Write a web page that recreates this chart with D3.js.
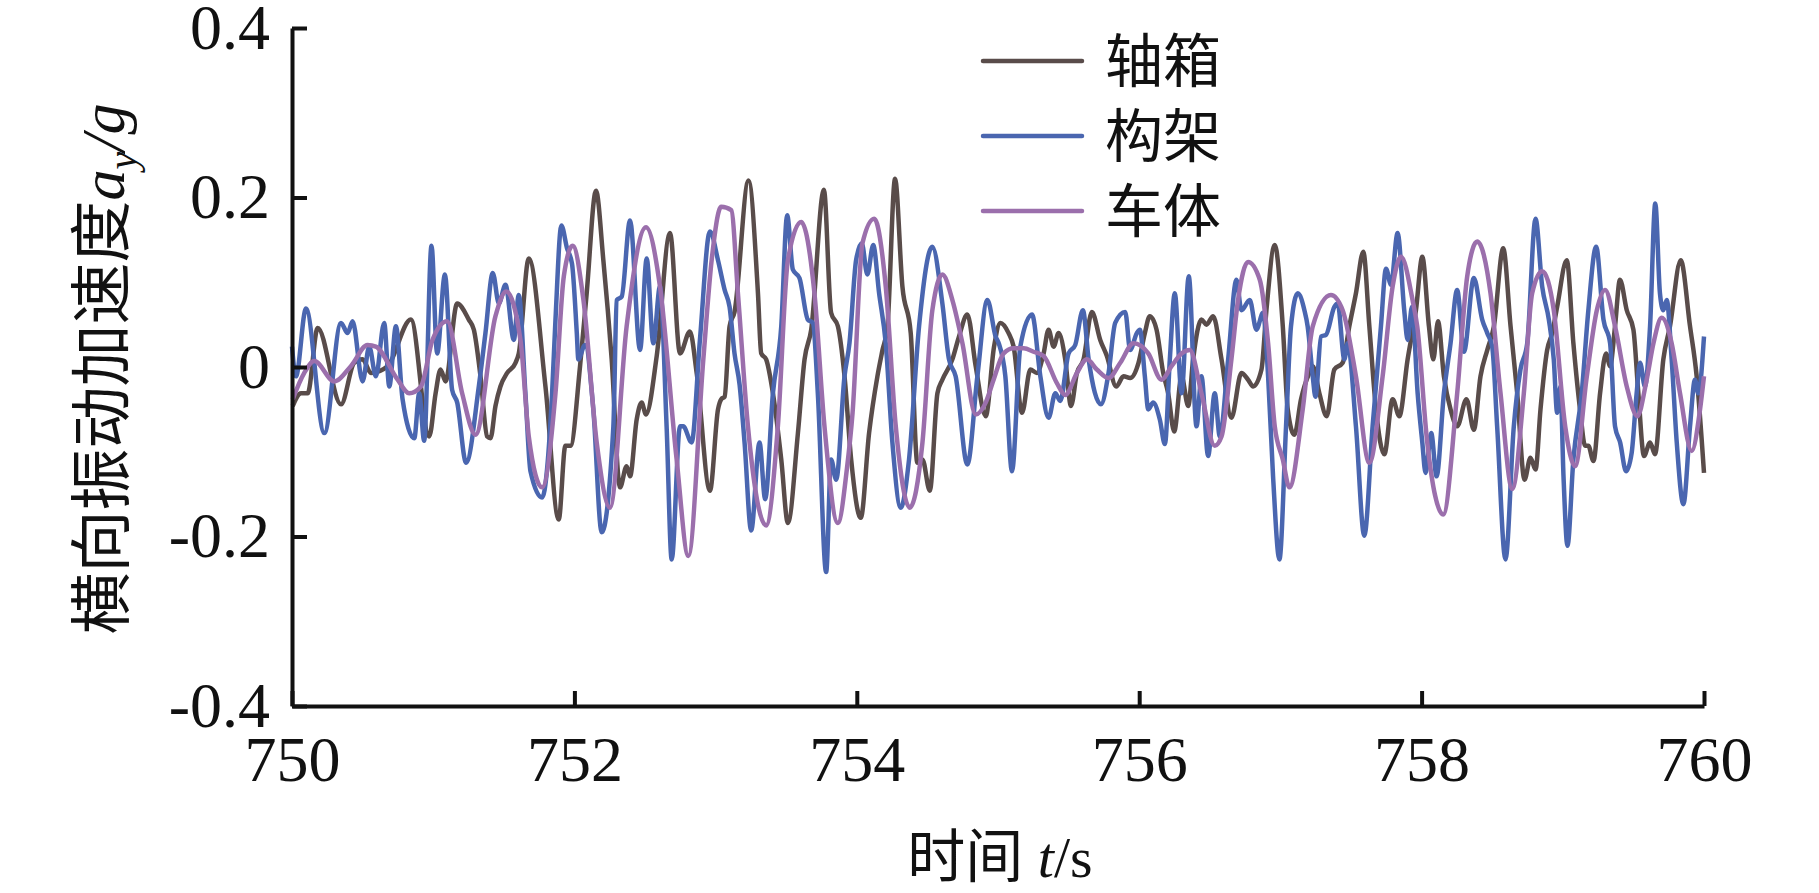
<!DOCTYPE html>
<html>
<head>
<meta charset="utf-8">
<script src="https://cdn.jsdelivr.net/npm/d3@7"></script>
<style>
  body { margin: 0; background: #fff; }
  svg { display: block; }
</style>
</head>
<body>
<svg width="1819" height="893"></svg>
<script>
// the data: [time s, a_y/g]
var axleBox = [
  [750.005,-0.046],[750.064,-0.031],[750.111,-0.031],[750.182,0.046],[750.347,-0.044],[750.441,0.005],
  [750.500,0.009],[750.559,-0.007],[750.677,0.001],[750.842,0.056],[750.972,-0.082],
  [751.017,-0.031],[751.052,-0.003],[751.087,-0.017],[751.170,0.075],[751.252,0.056],[751.288,0.044],
  [751.335,-0.011],[751.382,-0.082],[751.406,-0.084],[751.441,-0.046],[751.476,-0.023],[751.524,-0.007],
  [751.583,0.005],[751.606,0.016],[751.677,0.128],[751.795,-0.023],[751.889,-0.180],[751.936,-0.093],
  [751.972,-0.093],
  [752.040,0.001],[752.087,0.087],[752.153,0.208],[752.205,0.126],[752.264,0.009],[752.323,-0.142],
  [752.370,-0.117],[752.394,-0.129],[752.441,-0.062],[752.476,-0.042],[752.507,-0.056],[752.583,0.013],
  [752.677,0.158],[752.748,0.016],[752.818,0.042],[752.866,-0.007],[752.960,-0.146],
  [753.017,-0.050],[753.040,-0.038],[753.064,-0.035],[753.099,0.048],[753.134,0.065],[753.233,0.220],
  [753.300,0.087],[753.323,0.016],[753.358,0.009],[753.406,-0.031],[753.465,-0.109],[753.512,-0.184],
  [753.583,-0.078],[753.630,0.009],[753.677,0.044],[753.767,0.209],[753.818,0.064],[753.866,0.048],
  [753.913,-0.011],[753.960,-0.109],
  [754.028,-0.178],[754.087,-0.078],[754.146,-0.011],[754.182,0.020],[754.217,0.048],[754.271,0.222],
  [754.323,0.095],[754.382,0.040],[754.429,-0.113],[754.465,-0.109],[754.517,-0.146],[754.571,-0.031],
  [754.606,-0.015],[754.677,0.009],[754.724,0.036],[754.783,0.062],[754.842,0.001],[754.913,-0.058],
  [754.972,0.024],
  [755.017,0.052],[755.075,0.040],[755.111,0.024],[755.170,-0.054],[755.229,-0.003],[755.276,-0.007],
  [755.323,0.016],[755.358,0.044],[755.394,0.024],[755.429,0.040],[755.476,0.009],[755.517,-0.046],
  [755.559,-0.007],[755.606,0.009],[755.665,0.065],[755.724,0.032],[755.771,0.013],[755.837,-0.023],
  [755.889,-0.011],[755.936,-0.013],[755.995,0.005],
  [756.040,0.040],[756.075,0.060],[756.123,0.044],[756.170,-0.007],[756.205,-0.031],[756.248,-0.076],
  [756.300,-0.011],[756.347,-0.046],[756.382,0.009],[756.441,0.056],[756.476,0.050],[756.524,0.060],
  [756.583,0.009],[756.653,-0.060],[756.724,-0.007],[756.771,-0.015],[756.807,-0.023],[756.866,-0.003],
  [756.901,0.067],[756.960,0.144],
  [757.017,0.048],[757.052,-0.050],[757.099,-0.080],[757.146,-0.038],[757.205,-0.007],[757.229,0.001],
  [757.276,-0.031],[757.328,-0.058],[757.382,-0.003],[757.441,0.005],[757.488,0.048],[757.535,0.087],
  [757.587,0.136],[757.630,0.048],[757.677,-0.050],[757.736,-0.103],[757.795,-0.038],[757.842,-0.058],
  [757.901,0.009],[757.960,0.067],
  [758.005,0.130],[758.052,0.048],[758.083,0.009],[758.116,0.054],[758.158,-0.011],[758.205,-0.050],
  [758.252,-0.070],[758.318,-0.038],[758.370,-0.074],[758.417,-0.011],[758.465,0.020],[758.512,0.048],
  [758.578,0.140],[758.630,0.048],[758.677,-0.031],[758.729,-0.133],[758.771,-0.107],[758.807,-0.121],
  [758.842,-0.050],[758.889,0.020],[758.925,0.040],[758.960,0.071],
  [759.028,0.126],[759.075,0.028],[759.122,-0.050],[759.158,-0.093],[759.181,-0.093],[759.217,-0.111],
  [759.264,-0.031],[759.306,0.016],[759.335,0.001],[759.370,0.048],[759.405,0.103],[759.453,0.067],
  [759.500,0.044],[759.535,-0.031],[759.575,-0.105],[759.618,-0.089],[759.653,-0.103],[759.712,0.009],
  [759.759,0.048],[759.835,0.126],[759.901,0.048],[759.948,-0.011],[760.000,-0.125]
];

var bogie = [
  [750.000,0.024],[750.028,-0.011],[750.099,0.069],[750.229,-0.078],[750.347,0.052],[750.394,0.040],
  [750.429,0.054],[750.500,-0.017],[750.547,0.024],[750.594,-0.011],[750.653,0.052],[750.689,-0.023],
  [750.736,0.048],[750.783,-0.038],[750.866,-0.084],[750.901,-0.031],[750.936,-0.087],[750.988,0.143],
  [751.028,0.016],[751.083,0.109],[751.134,-0.027],[751.170,-0.042],[751.233,-0.113],[751.323,-0.023],
  [751.370,0.040],[751.422,0.111],[751.465,0.075],[751.512,0.097],[751.571,0.032],[751.606,0.085],
  [751.653,-0.031],[751.689,-0.123],[751.771,-0.154],[751.842,-0.031],[751.866,0.056],[751.908,0.167],
  [751.948,0.140],[751.983,0.122],
  [752.017,0.040],[752.028,0.009],[752.075,0.026],[752.134,-0.050],[752.193,-0.195],[752.276,-0.070],
  [752.300,0.079],[752.335,0.083],[752.394,0.173],[752.465,0.020],[752.512,0.128],[752.559,0.028],
  [752.606,0.095],[752.653,-0.070],[752.689,-0.227],[752.748,-0.070],[752.771,-0.070],[752.830,-0.089],
  [752.889,0.032],[752.960,0.160],
  [753.017,0.126],[753.064,0.091],[753.099,0.071],[753.134,0.016],[753.170,-0.021],[753.205,-0.089],
  [753.252,-0.193],[753.311,-0.089],[753.351,-0.156],[753.406,-0.031],[753.465,0.048],[753.507,0.179],
  [753.547,0.115],[753.594,0.105],[753.653,0.056],[753.689,0.052],[753.724,-0.031],[753.783,-0.242],
  [753.818,-0.109],[753.854,-0.133],[753.913,-0.011],[753.948,0.028],[753.995,0.126],
  [754.035,0.146],[754.075,0.109],[754.116,0.144],[754.158,0.087],[754.205,0.028],[754.252,-0.089],
  [754.311,-0.166],[754.370,-0.109],[754.441,0.048],[754.535,0.142],[754.606,0.075],[754.653,0.009],
  [754.700,-0.011],[754.783,-0.115],[754.854,-0.011],[754.925,0.079],[754.983,0.036],
  [755.005,0.028],[755.052,-0.011],[755.099,-0.123],[755.158,0.024],[755.241,0.062],[755.300,-0.011],
  [755.358,-0.060],[755.406,-0.031],[755.441,-0.040],[755.500,0.016],[755.547,0.026],[755.601,0.067],
  [755.642,0.009],[755.729,-0.044],[755.783,-0.007],[755.830,0.052],[755.901,0.065],[755.936,0.020],
  [755.983,0.040],
  [756.005,0.044],[756.040,-0.011],[756.064,-0.050],[756.099,-0.042],[756.146,-0.062],[756.182,-0.091],
  [756.217,0.009],[756.252,0.087],[756.300,-0.031],[756.351,0.107],[756.406,-0.070],[756.441,-0.011],
  [756.488,-0.105],[756.535,-0.031],[756.571,-0.082],[756.630,0.009],[756.689,0.103],[756.724,0.067],
  [756.783,0.079],[756.830,0.044],[756.877,0.064],[756.913,-0.011],[756.948,-0.129],[756.993,-0.227],
  [757.040,-0.070],[757.075,0.048],[757.123,0.087],[757.170,0.067],[757.193,0.048],[757.229,-0.011],
  [757.248,-0.035],[757.288,0.036],[757.323,0.038],[757.382,0.071],[757.406,0.075],[757.453,0.009],
  [757.476,0.028],[757.535,-0.070],[757.594,-0.199],[757.653,-0.070],[757.712,0.048],[757.748,0.116],
  [757.783,0.097],[757.830,0.158],[757.877,0.067],[757.901,0.032],[757.932,0.071],[757.972,-0.031],
  [758.005,-0.089],[758.028,-0.125],[758.068,-0.078],[758.106,-0.129],[758.158,-0.031],[758.205,0.028],
  [758.252,0.091],[758.300,0.018],[758.370,0.105],[758.429,0.056],[758.465,0.040],[758.500,0.024],
  [758.535,-0.070],[758.594,-0.227],[758.653,-0.070],[758.700,-0.003],[758.748,0.028],[758.807,0.175],
  [758.854,0.095],[758.901,0.056],[758.936,0.009],[758.960,-0.054],[758.983,-0.023],
  [759.005,-0.129],[759.033,-0.211],[759.075,-0.109],[759.134,-0.031],[759.181,0.067],[759.236,0.142],
  [759.288,0.056],[759.335,0.028],[759.370,-0.070],[759.406,-0.089],[759.448,-0.123],[759.488,-0.101],
  [759.523,-0.031],[759.547,0.005],[759.582,-0.023],[759.618,0.048],[759.655,0.193],[759.688,0.087],
  [759.712,0.067],[759.736,0.079],[759.771,0.009],[759.807,-0.089],[759.854,-0.162],[759.901,-0.070],
  [759.936,-0.015],[759.960,-0.031],[760.000,0.036]
];

var carBody = [
  [750.005,-0.038],[750.087,-0.007],[750.158,0.007],[750.300,-0.017],[750.417,0.001],[750.535,0.026],
  [750.594,0.024],[750.748,-0.015],[750.830,-0.031],[750.913,-0.023],[750.995,0.032],
  [751.099,0.054],[751.205,-0.031],[751.300,-0.080],[751.441,0.060],[751.517,0.089],[751.618,0.032],
  [751.677,-0.082],[751.771,-0.142],[751.866,-0.031],[751.925,0.107],[751.988,0.143],
  [752.064,0.079],[752.158,-0.089],[752.252,-0.166],[752.370,0.048],[752.507,0.165],[752.606,0.095],
  [752.724,-0.109],[752.807,-0.223],[752.913,0.009],[752.972,0.126],
  [753.040,0.189],[753.111,0.185],[753.158,0.087],[753.229,-0.070],[753.358,-0.187],[753.441,-0.070],
  [753.512,0.126],[753.606,0.171],[753.700,0.087],[753.771,-0.070],[753.866,-0.184],[753.930,-0.120],
  [753.970,-0.054],
  [754.040,0.146],[754.123,0.175],[754.205,0.095],[754.276,-0.070],[754.375,-0.166],[754.465,-0.089],
  [754.535,0.067],[754.606,0.109],[754.677,0.079],[754.748,0.028],[754.842,-0.056],[754.913,-0.042],
  [754.969,-0.015],
  [755.040,0.016],[755.111,0.022],[755.182,0.022],[755.252,0.018],[755.323,0.013],[755.417,-0.019],
  [755.476,-0.033],[755.559,-0.007],[755.630,0.009],[755.700,-0.003],[755.783,-0.013],[755.866,0.005],
  [755.960,0.028],
  [756.064,0.016],[756.158,-0.015],[756.229,0.001],[756.300,0.016],[756.358,0.020],[756.441,-0.031],
  [756.535,-0.093],[756.583,-0.082],[756.653,0.009],[756.700,0.079],[756.771,0.124],[756.854,0.103],
  [756.913,0.028],[756.960,-0.070],
  [757.017,-0.109],[757.064,-0.142],[757.158,-0.050],[757.229,0.048],[757.358,0.085],[757.441,0.067],
  [757.535,-0.011],[757.630,-0.113],[757.724,-0.011],[757.795,0.095],[757.854,0.130],[757.936,0.079],
  [757.969,0.048],
  [758.040,-0.089],[758.153,-0.174],[758.252,-0.031],[758.323,0.107],[758.394,0.148],[758.488,0.087],
  [758.559,-0.031],[758.642,-0.144],[758.724,-0.031],[758.783,0.087],[758.854,0.113],[758.936,0.067],
  [759.017,-0.070],[759.087,-0.117],[759.170,-0.011],[759.241,0.067],[759.300,0.091],[759.370,0.048],
  [759.453,-0.023],[759.528,-0.058],[759.594,-0.015],[759.642,0.028],[759.700,0.058],[759.771,0.028],
  [759.830,-0.031],[759.913,-0.099],[759.972,-0.050],[760.000,-0.011]
];

var seriesNames = ["轴箱", "构架", "车体"];
var seriesColours = ["#594c4a", "#4a66b0", "#9b6fac"];
var xTicks = [750, 752, 754, 756, 758, 760];
var yTicks = [-0.4, -0.2, 0, 0.2, 0.4];

var svg = d3.select("svg"),
    width = +svg.attr("width"),
    height = +svg.attr("height");

var margin = {top: 28, right: 115, bottom: 187, left: 292};

var x = d3.scaleLinear()
    .domain([750, 760])
    .range([margin.left, width - margin.right]);

var y = d3.scaleLinear()
    .domain([-0.4, 0.4])
    .range([height - margin.bottom, margin.top]);

var serif = "'Liberation Serif', 'Times New Roman', serif";
var cjk = "'Noto Sans CJK SC', sans-serif";

// lines
var line = d3.line()
    .x(d => x(d[0]))
    .y(d => y(d[1]))
    .curve(d3.curveMonotoneX);

[axleBox, bogie, carBody].forEach((data, i) => {
  svg.append("path")
    .datum(data)
    .attr("fill", "none")
    .attr("stroke", seriesColours[i])
    .attr("stroke-width", 4.5)
    .attr("stroke-linejoin", "round")
    .attr("d", line);
});

// axes
var yAxis = svg.append("g")
    .attr("transform", "translate(" + margin.left + ",0)")
    .call(d3.axisLeft(y).tickValues(yTicks).tickSizeInner(-15).tickSizeOuter(0).tickPadding(22)
      .tickFormat(d => d === 0 ? "0" : d3.format(".1f")(d).replace("−", "-")));

var xAxis = svg.append("g")
    .attr("transform", "translate(0," + (height - margin.bottom) + ")")
    .call(d3.axisBottom(x).tickValues(xTicks).tickSizeInner(-15).tickSizeOuter(0).tickPadding(20));

[yAxis, xAxis].forEach(a => {
  a.select(".domain").attr("stroke", "#111").attr("stroke-width", 4);
  a.selectAll(".tick line").attr("stroke", "#111").attr("stroke-width", 4);
  a.selectAll("text")
    .attr("fill", "#111")
    .style("font-family", serif)
    .style("font-size", "64px");
});

xAxis.selectAll("text").attr("y", 75).attr("dy", 0);

// legend
var legend = svg.append("g");
seriesNames.forEach((name, i) => {
  var ly = 61 + i * 75;
  legend.append("line")
    .attr("x1", 983).attr("x2", 1082)
    .attr("y1", ly).attr("y2", ly)
    .attr("stroke", seriesColours[i])
    .attr("stroke-width", 4.5)
    .attr("stroke-linecap", "round");
  legend.append("text")
    .attr("x", 1105)
    .attr("y", ly)
    .attr("dy", "0.36em")
    .style("font-family", cjk)
    .style("font-size", "58px")
    .attr("fill", "#111")
    .text(name);
});

// axis titles
var yTitle = svg.append("text")
    .attr("transform", "translate(124,369) rotate(-90)")
    .attr("text-anchor", "middle")
    .attr("fill", "#111")
    .style("font-size", "62px");
yTitle.append("tspan").style("font-family", cjk).text("横向振动加速度");
yTitle.append("tspan").style("font-family", serif).style("font-style", "italic").text("a");
yTitle.append("tspan").style("font-family", serif).style("font-style", "italic")
    .style("font-size", "40px").attr("dy", 12).text("y");
yTitle.append("tspan").style("font-family", serif).style("font-style", "italic")
    .attr("dy", -12).text("/g");

var xTitle = svg.append("text")
    .attr("x", 1000)
    .attr("y", 877)
    .attr("text-anchor", "middle")
    .attr("fill", "#111")
    .style("font-size", "58px");
xTitle.append("tspan").style("font-family", cjk).text("时间");
xTitle.append("tspan").style("font-family", serif).style("font-style", "italic").text(" t");
xTitle.append("tspan").style("font-family", serif).text("/s");
</script>
</body>
</html>
